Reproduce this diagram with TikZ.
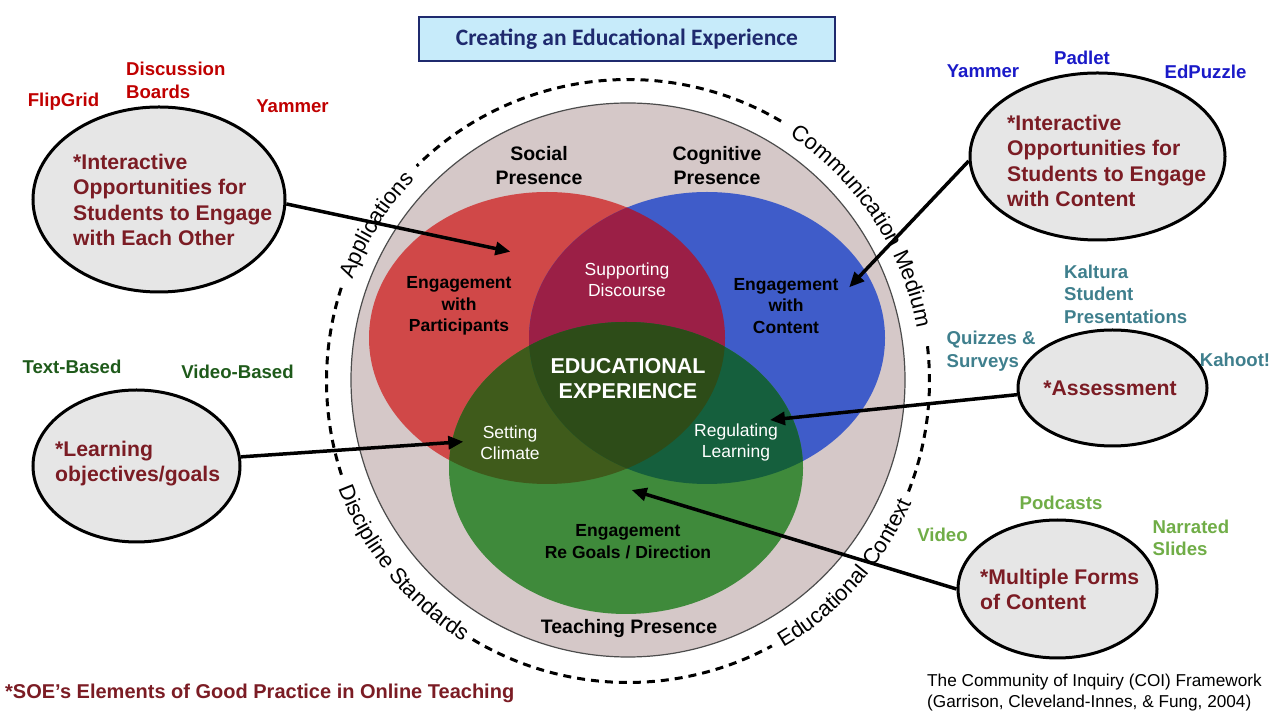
\documentclass[tikz,border=0pt]{standalone}
\usepackage{fontspec}
\setmainfont{Liberation Sans}
\newfontfamily\titlefont{Carlito}
\usetikzlibrary{shapes.geometric,arrows.meta,decorations.text}

\definecolor{titlefill}{HTML}{C7EBFA}
\definecolor{titleblue}{HTML}{1F2A6E}
\definecolor{ringgrey}{HTML}{D5C8C8}
\definecolor{bubgrey}{HTML}{E6E6E6}
\definecolor{bubred}{HTML}{7B1C24}
\definecolor{socred}{HTML}{D04848}
\definecolor{cogblue}{HTML}{3F5CC9}
\definecolor{teachgreen}{HTML}{3F8A3B}
\definecolor{redblue}{HTML}{9B1F46}
\definecolor{redgreen}{HTML}{3F5B1B}
\definecolor{bluegreen}{HTML}{155F3D}
\definecolor{allthree}{HTML}{2D4C18}
\definecolor{toolred}{HTML}{C00000}
\definecolor{toolblue}{HTML}{1A1AC8}
\definecolor{toolteal}{HTML}{3F7F8D}
\definecolor{toollime}{HTML}{70AD47}
\definecolor{toolgreen}{HTML}{1E5A1A}

\tikzset{
  bubble/.style={ellipse, draw=black, line width=3pt, fill=bubgrey, inner sep=0pt},
  bubtext/.style={anchor=west, align=left, inner sep=0pt, text=bubred,
    font=\fontsize{21.2}{25.5}\selectfont\bfseries},
  tool/.style={inner sep=0pt, font=\fontsize{18.6}{22.5}\selectfont\bfseries},
  venn/.style={inner sep=0pt, align=center, font=\fontsize{17.5}{21.5}\selectfont\bfseries},
  vennw/.style={inner sep=0pt, align=center, text=white, font=\fontsize{17.5}{21.5}\selectfont},
  presence/.style={inner sep=0pt, align=center, font=\fontsize{19.5}{23.5}\selectfont\bfseries},
  pointer/.style={line width=3.5pt, -{Triangle[length=15pt,width=13pt]}},
  ringdash/.style={line width=3pt, dash pattern=on 8pt off 6pt},
  ringtext/.style={decorate, decoration={text along path, text align=center,
    text={|\fontsize{22}{22}\selectfont|#1}}},
}

\begin{document}
\begin{tikzpicture}[x=1pt,y=1pt]
\useasboundingbox (0,0) rectangle (1280,720);

% Title
\node[draw=titleblue, line width=1.5pt, fill=titlefill, minimum width=416pt, minimum height=44pt,
  text=titleblue, font=\titlefont\fontsize{23.5}{28}\selectfont\bfseries] (title) at (627,681)
  {Creating an Educational Experience};

% Grey ring
\filldraw[fill=ringgrey, draw=black!70, line width=1.2pt] (628,340) circle[radius=277];

% Venn
\fill[socred] (547,382) ellipse[x radius=178, y radius=146];
\fill[cogblue] (707,382) ellipse[x radius=178, y radius=146];
\fill[teachgreen] (626,252) ellipse[x radius=177, y radius=146];
\begin{scope}
  \clip (547,382) ellipse[x radius=178, y radius=146];
  \fill[redblue] (707,382) ellipse[x radius=178, y radius=146];
  \fill[redgreen] (626,252) ellipse[x radius=177, y radius=146];
\end{scope}
\begin{scope}
  \clip (707,382) ellipse[x radius=178, y radius=146];
  \fill[bluegreen] (626,252) ellipse[x radius=177, y radius=146];
  \clip (626,252) ellipse[x radius=177, y radius=146];
  \clip (547,382) ellipse[x radius=178, y radius=146];
  \fill[allthree] (400,150) rectangle (850,450);
\end{scope}

% Venn labels
\node[presence] (social) at (539,554.5) {Social\\Presence};
\node[presence] (cognitive) at (717,554.5) {Cognitive\\Presence};
\node[venn] (engpart) at (459,414) {Engagement\\with\\Participants};
\node[vennw] (discourse) at (627,440) {Supporting\\Discourse};
\node[venn] (engcont) at (786,414) {Engagement\\with\\Content};
\node[inner sep=0pt, align=center, text=white, font=\fontsize{21.5}{25}\selectfont\bfseries]
  (edexp) at (628,341.5) {EDUCATIONAL\\EXPERIENCE};
\node[vennw] (climate) at (510,277.5) {Setting\\Climate};
\node[vennw] (regulate) at (736,277.5) {Regulating\\Learning};
\node[venn] (enggoals) at (628,178.5) {Engagement\\Re Goals / Direction};
\node[presence] (teaching) at (629,91) {Teaching Presence};

% Dashed ring, broken where the words sit
\draw[ringdash] (628,339) ++(59.5:301.5) arc[start angle=59.5, end angle=134.5, radius=301.5];
\draw[ringdash] (628,339) ++(162:301.5) arc[start angle=162, end angle=198.5, radius=301.5];
\draw[ringdash] (628,339) ++(239:301.5) arc[start angle=239, end angle=298.5, radius=301.5];
\draw[ringdash] (628,339) ++(338.5:301.5) arc[start angle=338.5, end angle=367.5, radius=301.5];

% Ring words
\path[ringtext=Applications] (628,339) ++(178:293.5) arc[start angle=178, end angle=118.5, radius=293.5];
\path[ringtext=Communication Medium] (628,339) ++(63.5:293.5) arc[start angle=63.5, end angle=3.5, radius=293.5];
\path[ringtext=Discipline Standards] (628,339) ++(189:308.5) arc[start angle=189, end angle=249, radius=308.5];
\path[ringtext=Educational Context] (628,339) ++(288.5:308.5) arc[start angle=288.5, end angle=348.5, radius=308.5];

% Bubbles
\node[bubble, minimum width=252pt, minimum height=185pt] (b1) at (159,520.5) {};
\node[bubtext] (t1) at (73,520) {*Interactive\\Opportunities for\\Students to Engage\\with Each Other};
\node[bubble, minimum width=255pt, minimum height=167pt] (b2) at (1097.5,563.5) {};
\node[bubtext] (t2) at (1007,559) {*Interactive\\Opportunities for\\Students to Engage\\with Content};
\node[bubble, minimum width=189pt, minimum height=116pt] (b3) at (1112.5,332) {};
\node[bubtext, anchor=center] (t3) at (1110,332) {*Assessment};
\node[bubble, minimum width=199pt, minimum height=138pt] (b4) at (1057.5,131) {};
\node[bubtext] (t4) at (980,130.5) {*Multiple Forms\\of Content};
\node[bubble, minimum width=207pt, minimum height=152pt] (b5) at (136.5,254) {};
\node[bubtext] (t5) at (55,256.5) {*Learning\\objectives/goals};

% Tools
\node[tool, text=toolred] (flipgrid) at (63.5,618.3) {FlipGrid};
\node[tool, text=toolred, align=left, anchor=west] (boards) at (126,639.5) {Discussion\\Boards};
\node[tool, text=toolred] (yamred) at (292.5,613.3) {Yammer};
\node[tool, text=toolblue] (yamblue) at (983,648.3) {Yammer};
\node[tool, text=toolblue] (padlet) at (1082,661.7) {Padlet};
\node[tool, text=toolblue] (edpuzzle) at (1205.5,648.3) {EdPuzzle};
\node[tool, text=toolteal, align=left, anchor=west] (kaltura) at (1064,425.7) {Kaltura\\Student\\Presentations};
\node[tool, text=toolteal, align=left, anchor=west] (quizzes) at (946.5,368.7) {Quizzes \&\\Surveys};
\node[tool, text=toolteal] (kahoot) at (1235,360) {Kahoot!};
\node[tool, text=toollime] (podcasts) at (1061,217.3) {Podcasts};
\node[tool, text=toollime] (video) at (942.5,185) {Video};
\node[tool, text=toollime, align=left, anchor=west] (narrated) at (1152.5,182) {Narrated\\Slides};
\node[tool, text=toolgreen] (textbased) at (72,352.7) {Text-Based};
\node[tool, text=toolgreen] (videobased) at (237.5,348.3) {Video-Based};

% Footers
\node[inner sep=0pt, anchor=west, text=bubred, font=\fontsize{20}{23}\selectfont\bfseries]
  (soe) at (5,27) {*SOE's Elements of Good Practice in Online Teaching};
\node[inner sep=0pt, anchor=west, align=left, font=\fontsize{17.2}{21}\selectfont]
  (coi) at (927,27.5) {The Community of Inquiry (COI) Framework\\(Garrison, Cleveland-Innes, \& Fung, 2004)};

% Arrows
\coordinate (tip1) at (510.4,468.3);
\coordinate (tip2) at (849.2,432.7);
\coordinate (tip3) at (770,300);
\coordinate (tip4) at (463.3,278.3);
\coordinate (tip5) at (631.7,230);
\draw[pointer] (b1.-2) -- (tip1);
\draw[pointer] (b2.182) -- (tip2);
\draw[pointer] (b3.184) -- (tip3);
\draw[pointer] (b5.5) -- (tip4);
\draw[pointer] (b4.west) -- (tip5);
\end{tikzpicture}
\end{document}
